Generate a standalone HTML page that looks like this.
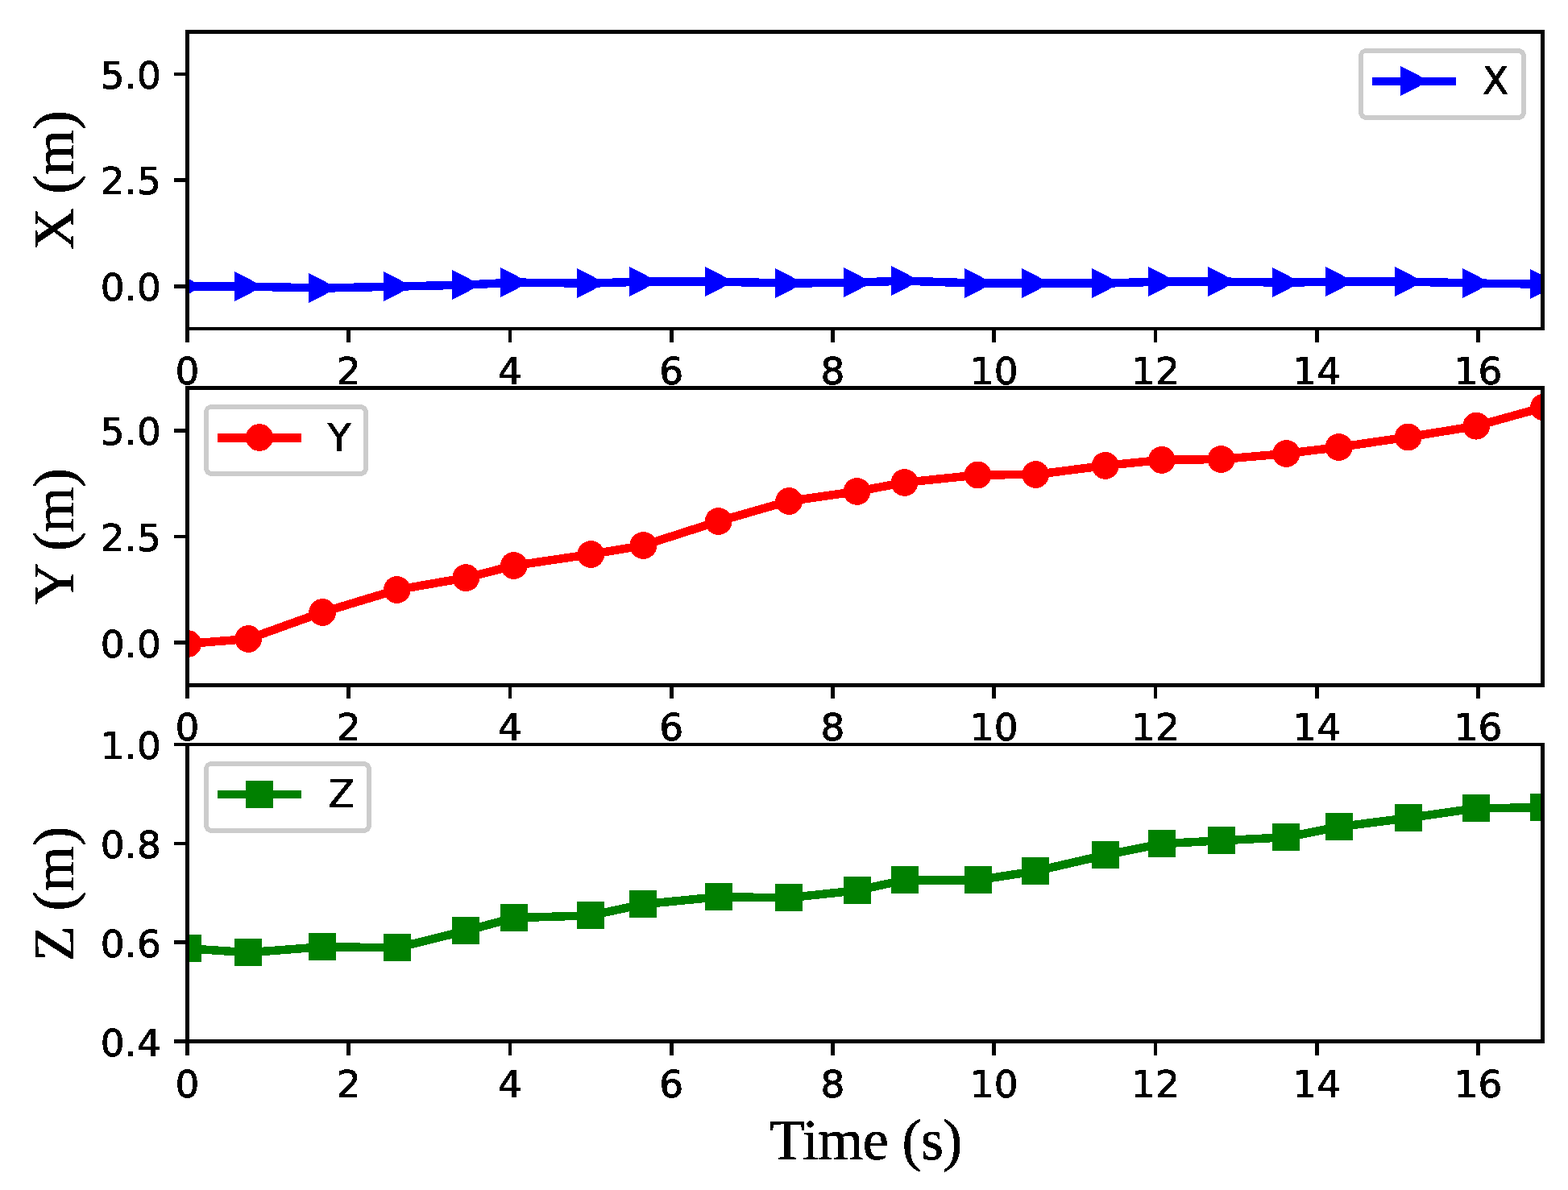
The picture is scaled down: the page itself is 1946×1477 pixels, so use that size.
<!DOCTYPE html>
<html lang="en"><head><meta charset="utf-8"><title>X, Y, Z position versus time</title>
<style>
html,body{margin:0;padding:0;background:#fff;}
body{width:1946px;height:1477px;overflow:hidden;}
svg{display:block;}
.t{font-family:"DejaVu Sans","Liberation Sans",sans-serif;font-size:47px;fill:#000;stroke:#000;stroke-width:0.7px;stroke-linejoin:round;filter:url(#bin);}
.l{font-family:"Liberation Serif","DejaVu Serif",serif;font-size:72px;fill:#000;stroke:#000;stroke-width:0.6px;stroke-linejoin:round;filter:url(#bin);}
.spf{fill:#000;fill-rule:evenodd;shape-rendering:crispEdges;}
.ln{fill:none;stroke-width:10.5;stroke-linejoin:round;stroke-linecap:butt;}
.lg{fill:#fff;stroke:#cccccc;stroke-width:5.7;}
</style></head><body>
<svg width="1946" height="1477" viewBox="0 0 1946 1477" role="img" aria-label="X, Y and Z position in metres versus time in seconds">
<rect width="1946" height="1477" fill="#fff"/>
<defs>
<filter id="bin" x="-10%" y="-10%" width="120%" height="120%" color-interpolation-filters="sRGB"><feComponentTransfer><feFuncA type="discrete" tableValues="0 0 1 1 1"/></feComponentTransfer></filter>
<clipPath id="c0"><rect x="232.5" y="39.5" width="1682" height="368.5"/></clipPath>
<clipPath id="c1"><rect x="232.5" y="481.75" width="1682" height="368.5"/></clipPath>
<clipPath id="c2"><rect x="232.5" y="924" width="1682" height="368.5"/></clipPath>
</defs>
<g id="axes1">
<path class="spf" d="M230 410H235V425H230ZM430 410H435V425H430ZM631 410H635V425H631ZM831 410H836V425H831ZM1031 410H1036V425H1031ZM1231 410H1236V425H1231ZM1432 410H1436V425H1432ZM1632 410H1637V425H1632ZM1832 410H1837V425H1832Z"/>
<text class="t" x="232.5" y="476.5" text-anchor="middle">0</text>
<text class="t" x="432.74" y="476.5" text-anchor="middle">2</text>
<text class="t" x="632.98" y="476.5" text-anchor="middle">4</text>
<text class="t" x="833.22" y="476.5" text-anchor="middle">6</text>
<text class="t" x="1033.46" y="476.5" text-anchor="middle">8</text>
<text class="t" x="1233.7" y="476.5" text-anchor="middle">10</text>
<text class="t" x="1433.94" y="476.5" text-anchor="middle">12</text>
<text class="t" x="1634.18" y="476.5" text-anchor="middle">14</text>
<text class="t" x="1834.42" y="476.5" text-anchor="middle">16</text>
<path class="spf" d="M216 90H230V94H216ZM216 221H230V226H216ZM216 353H230V358H216Z"/>
<text class="t" x="200" y="110.26" text-anchor="end" letter-spacing="0.15">5.0</text>
<text class="t" x="200" y="241.26" text-anchor="end" letter-spacing="0.15">2.5</text>
<text class="t" x="200" y="373.26" text-anchor="end" letter-spacing="0.15">0.0</text>
<text class="l" transform="translate(91 223.85) rotate(-90)" text-anchor="middle" letter-spacing="-0.25">X (m)</text>
<g clip-path="url(#c0)" shape-rendering="crispEdges">
<polyline class="ln" stroke="#0000ff" points="233,355.6 308.1,355.6 400.1,357.6 492.8,355.6 578.3,353.6 637.8,350.6 733.3,351.6 798.4,349.6 891.7,349.6 979.1,351.6 1063.6,350.6 1122.6,348.6 1213.6,351.6 1285.2,351.6 1371.7,351.6 1441.8,349.6 1515.6,349.6 1596.4,350.6 1661.6,349.6 1747.7,349.6 1832.2,351.6 1916,352.6"/>
<path fill="#0000ff" d="M216 337L252.2 355.5L216 374ZM291 337L327.2 355.5L291 374ZM383 339L419.2 357.5L383 376ZM476 337L512.2 355.5L476 374ZM561 335L597.2 353.5L561 372ZM621 332L657.2 350.5L621 369ZM716 333L752.2 351.5L716 370ZM781 331L817.2 349.5L781 368ZM875 331L911.2 349.5L875 368ZM962 333L998.2 351.5L962 370ZM1047 332L1083.2 350.5L1047 369ZM1106 330L1142.2 348.5L1106 367ZM1197 333L1233.2 351.5L1197 370ZM1268 333L1304.2 351.5L1268 370ZM1355 333L1391.2 351.5L1355 370ZM1425 331L1461.2 349.5L1425 368ZM1499 331L1535.2 349.5L1499 368ZM1579 332L1615.2 350.5L1579 369ZM1645 331L1681.2 349.5L1645 368ZM1731 331L1767.2 349.5L1731 368ZM1815 333L1851.2 351.5L1815 370ZM1899 334L1935.2 352.5L1899 371Z"/>
</g>
<path class="spf" d="M230 37H1917V410H230ZM235 42V406H1912V42Z"/>
</g>
<g id="axes2">
<path class="spf" d="M230 853H235V867H230ZM430 853H435V867H430ZM631 853H635V867H631ZM831 853H836V867H831ZM1031 853H1036V867H1031ZM1231 853H1236V867H1231ZM1432 853H1436V867H1432ZM1632 853H1637V867H1632ZM1832 853H1837V867H1832Z"/>
<text class="t" x="232.5" y="918.5" text-anchor="middle">0</text>
<text class="t" x="432.74" y="918.5" text-anchor="middle">2</text>
<text class="t" x="632.98" y="918.5" text-anchor="middle">4</text>
<text class="t" x="833.22" y="918.5" text-anchor="middle">6</text>
<text class="t" x="1033.46" y="918.5" text-anchor="middle">8</text>
<text class="t" x="1233.7" y="918.5" text-anchor="middle">10</text>
<text class="t" x="1433.94" y="918.5" text-anchor="middle">12</text>
<text class="t" x="1634.18" y="918.5" text-anchor="middle">14</text>
<text class="t" x="1834.42" y="918.5" text-anchor="middle">16</text>
<path class="spf" d="M216 532H230V537H216ZM216 664H230V668H216ZM216 795H230V800H216Z"/>
<text class="t" x="200" y="552.26" text-anchor="end" letter-spacing="0.15">5.0</text>
<text class="t" x="200" y="684.26" text-anchor="end" letter-spacing="0.15">2.5</text>
<text class="t" x="200" y="816.26" text-anchor="end" letter-spacing="0.15">0.0</text>
<text class="l" transform="translate(91 665.8) rotate(-90)" text-anchor="middle" letter-spacing="-0.6">Y (m)</text>
<g clip-path="url(#c1)" shape-rendering="crispEdges">
<polyline class="ln" stroke="#ff0000" points="233,799 308.1,793 400.1,760 492.8,732 578.3,717.1 637.8,702 733.3,688 798.4,677 891.7,647 979.1,622 1063.6,609.9 1122.6,598.9 1213.6,589.5 1285.2,589 1371.7,577.9 1441.8,570.9 1515.6,570 1596.4,563 1661.6,555 1747.7,542.5 1832.2,528.7 1916,505.5"/>
<path fill="#ff0000" d="M249.9 799L249.69 801.64L249.07 804.22L248.06 806.67L246.67 808.93L244.95 810.95L242.93 812.67L240.67 814.06L238.22 815.07L235.64 815.69L233 815.9L230.36 815.69L227.78 815.07L225.33 814.06L223.07 812.67L221.05 810.95L219.33 808.93L217.94 806.67L216.93 804.22L216.31 801.64L216.1 799L216.31 796.36L216.93 793.78L217.94 791.33L219.33 789.07L221.05 787.05L223.07 785.33L225.33 783.94L227.78 782.93L230.36 782.31L233 782.1L235.64 782.31L238.22 782.93L240.67 783.94L242.93 785.33L244.95 787.05L246.67 789.07L248.06 791.33L249.07 793.78L249.69 796.36ZM325 793L324.79 795.64L324.17 798.22L323.16 800.67L321.77 802.93L320.05 804.95L318.03 806.67L315.77 808.06L313.32 809.07L310.74 809.69L308.1 809.9L305.46 809.69L302.88 809.07L300.43 808.06L298.17 806.67L296.15 804.95L294.43 802.93L293.04 800.67L292.03 798.22L291.41 795.64L291.2 793L291.41 790.36L292.03 787.78L293.04 785.33L294.43 783.07L296.15 781.05L298.17 779.33L300.43 777.94L302.88 776.93L305.46 776.31L308.1 776.1L310.74 776.31L313.32 776.93L315.77 777.94L318.03 779.33L320.05 781.05L321.77 783.07L323.16 785.33L324.17 787.78L324.79 790.36ZM417 760L416.79 762.64L416.17 765.22L415.16 767.67L413.77 769.93L412.05 771.95L410.03 773.67L407.77 775.06L405.32 776.07L402.74 776.69L400.1 776.9L397.46 776.69L394.88 776.07L392.43 775.06L390.17 773.67L388.15 771.95L386.43 769.93L385.04 767.67L384.03 765.22L383.41 762.64L383.2 760L383.41 757.36L384.03 754.78L385.04 752.33L386.43 750.07L388.15 748.05L390.17 746.33L392.43 744.94L394.88 743.93L397.46 743.31L400.1 743.1L402.74 743.31L405.32 743.93L407.77 744.94L410.03 746.33L412.05 748.05L413.77 750.07L415.16 752.33L416.17 754.78L416.79 757.36ZM509.7 732L509.49 734.64L508.87 737.22L507.86 739.67L506.47 741.93L504.75 743.95L502.73 745.67L500.47 747.06L498.02 748.07L495.44 748.69L492.8 748.9L490.16 748.69L487.58 748.07L485.13 747.06L482.87 745.67L480.85 743.95L479.13 741.93L477.74 739.67L476.73 737.22L476.11 734.64L475.9 732L476.11 729.36L476.73 726.78L477.74 724.33L479.13 722.07L480.85 720.05L482.87 718.33L485.13 716.94L487.58 715.93L490.16 715.31L492.8 715.1L495.44 715.31L498.02 715.93L500.47 716.94L502.73 718.33L504.75 720.05L506.47 722.07L507.86 724.33L508.87 726.78L509.49 729.36ZM595.2 717.1L594.99 719.74L594.37 722.32L593.36 724.77L591.97 727.03L590.25 729.05L588.23 730.77L585.97 732.16L583.52 733.17L580.94 733.79L578.3 734L575.66 733.79L573.08 733.17L570.63 732.16L568.37 730.77L566.35 729.05L564.63 727.03L563.24 724.77L562.23 722.32L561.61 719.74L561.4 717.1L561.61 714.46L562.23 711.88L563.24 709.43L564.63 707.17L566.35 705.15L568.37 703.43L570.63 702.04L573.08 701.03L575.66 700.41L578.3 700.2L580.94 700.41L583.52 701.03L585.97 702.04L588.23 703.43L590.25 705.15L591.97 707.17L593.36 709.43L594.37 711.88L594.99 714.46ZM654.7 702L654.49 704.64L653.87 707.22L652.86 709.67L651.47 711.93L649.75 713.95L647.73 715.67L645.47 717.06L643.02 718.07L640.44 718.69L637.8 718.9L635.16 718.69L632.58 718.07L630.13 717.06L627.87 715.67L625.85 713.95L624.13 711.93L622.74 709.67L621.73 707.22L621.11 704.64L620.9 702L621.11 699.36L621.73 696.78L622.74 694.33L624.13 692.07L625.85 690.05L627.87 688.33L630.13 686.94L632.58 685.93L635.16 685.31L637.8 685.1L640.44 685.31L643.02 685.93L645.47 686.94L647.73 688.33L649.75 690.05L651.47 692.07L652.86 694.33L653.87 696.78L654.49 699.36ZM750.2 688L749.99 690.64L749.37 693.22L748.36 695.67L746.97 697.93L745.25 699.95L743.23 701.67L740.97 703.06L738.52 704.07L735.94 704.69L733.3 704.9L730.66 704.69L728.08 704.07L725.63 703.06L723.37 701.67L721.35 699.95L719.63 697.93L718.24 695.67L717.23 693.22L716.61 690.64L716.4 688L716.61 685.36L717.23 682.78L718.24 680.33L719.63 678.07L721.35 676.05L723.37 674.33L725.63 672.94L728.08 671.93L730.66 671.31L733.3 671.1L735.94 671.31L738.52 671.93L740.97 672.94L743.23 674.33L745.25 676.05L746.97 678.07L748.36 680.33L749.37 682.78L749.99 685.36ZM815.3 677L815.09 679.64L814.47 682.22L813.46 684.67L812.07 686.93L810.35 688.95L808.33 690.67L806.07 692.06L803.62 693.07L801.04 693.69L798.4 693.9L795.76 693.69L793.18 693.07L790.73 692.06L788.47 690.67L786.45 688.95L784.73 686.93L783.34 684.67L782.33 682.22L781.71 679.64L781.5 677L781.71 674.36L782.33 671.78L783.34 669.33L784.73 667.07L786.45 665.05L788.47 663.33L790.73 661.94L793.18 660.93L795.76 660.31L798.4 660.1L801.04 660.31L803.62 660.93L806.07 661.94L808.33 663.33L810.35 665.05L812.07 667.07L813.46 669.33L814.47 671.78L815.09 674.36ZM908.6 647L908.39 649.64L907.77 652.22L906.76 654.67L905.37 656.93L903.65 658.95L901.63 660.67L899.37 662.06L896.92 663.07L894.34 663.69L891.7 663.9L889.06 663.69L886.48 663.07L884.03 662.06L881.77 660.67L879.75 658.95L878.03 656.93L876.64 654.67L875.63 652.22L875.01 649.64L874.8 647L875.01 644.36L875.63 641.78L876.64 639.33L878.03 637.07L879.75 635.05L881.77 633.33L884.03 631.94L886.48 630.93L889.06 630.31L891.7 630.1L894.34 630.31L896.92 630.93L899.37 631.94L901.63 633.33L903.65 635.05L905.37 637.07L906.76 639.33L907.77 641.78L908.39 644.36ZM996 622L995.79 624.64L995.17 627.22L994.16 629.67L992.77 631.93L991.05 633.95L989.03 635.67L986.77 637.06L984.32 638.07L981.74 638.69L979.1 638.9L976.46 638.69L973.88 638.07L971.43 637.06L969.17 635.67L967.15 633.95L965.43 631.93L964.04 629.67L963.03 627.22L962.41 624.64L962.2 622L962.41 619.36L963.03 616.78L964.04 614.33L965.43 612.07L967.15 610.05L969.17 608.33L971.43 606.94L973.88 605.93L976.46 605.31L979.1 605.1L981.74 605.31L984.32 605.93L986.77 606.94L989.03 608.33L991.05 610.05L992.77 612.07L994.16 614.33L995.17 616.78L995.79 619.36ZM1080.5 609.9L1080.29 612.54L1079.67 615.12L1078.66 617.57L1077.27 619.83L1075.55 621.85L1073.53 623.57L1071.27 624.96L1068.82 625.97L1066.24 626.59L1063.6 626.8L1060.96 626.59L1058.38 625.97L1055.93 624.96L1053.67 623.57L1051.65 621.85L1049.93 619.83L1048.54 617.57L1047.53 615.12L1046.91 612.54L1046.7 609.9L1046.91 607.26L1047.53 604.68L1048.54 602.23L1049.93 599.97L1051.65 597.95L1053.67 596.23L1055.93 594.84L1058.38 593.83L1060.96 593.21L1063.6 593L1066.24 593.21L1068.82 593.83L1071.27 594.84L1073.53 596.23L1075.55 597.95L1077.27 599.97L1078.66 602.23L1079.67 604.68L1080.29 607.26ZM1139.5 598.9L1139.29 601.54L1138.67 604.12L1137.66 606.57L1136.27 608.83L1134.55 610.85L1132.53 612.57L1130.27 613.96L1127.82 614.97L1125.24 615.59L1122.6 615.8L1119.96 615.59L1117.38 614.97L1114.93 613.96L1112.67 612.57L1110.65 610.85L1108.93 608.83L1107.54 606.57L1106.53 604.12L1105.91 601.54L1105.7 598.9L1105.91 596.26L1106.53 593.68L1107.54 591.23L1108.93 588.97L1110.65 586.95L1112.67 585.23L1114.93 583.84L1117.38 582.83L1119.96 582.21L1122.6 582L1125.24 582.21L1127.82 582.83L1130.27 583.84L1132.53 585.23L1134.55 586.95L1136.27 588.97L1137.66 591.23L1138.67 593.68L1139.29 596.26ZM1230.5 589.5L1230.29 592.14L1229.67 594.72L1228.66 597.17L1227.27 599.43L1225.55 601.45L1223.53 603.17L1221.27 604.56L1218.82 605.57L1216.24 606.19L1213.6 606.4L1210.96 606.19L1208.38 605.57L1205.93 604.56L1203.67 603.17L1201.65 601.45L1199.93 599.43L1198.54 597.17L1197.53 594.72L1196.91 592.14L1196.7 589.5L1196.91 586.86L1197.53 584.28L1198.54 581.83L1199.93 579.57L1201.65 577.55L1203.67 575.83L1205.93 574.44L1208.38 573.43L1210.96 572.81L1213.6 572.6L1216.24 572.81L1218.82 573.43L1221.27 574.44L1223.53 575.83L1225.55 577.55L1227.27 579.57L1228.66 581.83L1229.67 584.28L1230.29 586.86ZM1302.1 589L1301.89 591.64L1301.27 594.22L1300.26 596.67L1298.87 598.93L1297.15 600.95L1295.13 602.67L1292.87 604.06L1290.42 605.07L1287.84 605.69L1285.2 605.9L1282.56 605.69L1279.98 605.07L1277.53 604.06L1275.27 602.67L1273.25 600.95L1271.53 598.93L1270.14 596.67L1269.13 594.22L1268.51 591.64L1268.3 589L1268.51 586.36L1269.13 583.78L1270.14 581.33L1271.53 579.07L1273.25 577.05L1275.27 575.33L1277.53 573.94L1279.98 572.93L1282.56 572.31L1285.2 572.1L1287.84 572.31L1290.42 572.93L1292.87 573.94L1295.13 575.33L1297.15 577.05L1298.87 579.07L1300.26 581.33L1301.27 583.78L1301.89 586.36ZM1388.6 577.9L1388.39 580.54L1387.77 583.12L1386.76 585.57L1385.37 587.83L1383.65 589.85L1381.63 591.57L1379.37 592.96L1376.92 593.97L1374.34 594.59L1371.7 594.8L1369.06 594.59L1366.48 593.97L1364.03 592.96L1361.77 591.57L1359.75 589.85L1358.03 587.83L1356.64 585.57L1355.63 583.12L1355.01 580.54L1354.8 577.9L1355.01 575.26L1355.63 572.68L1356.64 570.23L1358.03 567.97L1359.75 565.95L1361.77 564.23L1364.03 562.84L1366.48 561.83L1369.06 561.21L1371.7 561L1374.34 561.21L1376.92 561.83L1379.37 562.84L1381.63 564.23L1383.65 565.95L1385.37 567.97L1386.76 570.23L1387.77 572.68L1388.39 575.26ZM1458.7 570.9L1458.49 573.54L1457.87 576.12L1456.86 578.57L1455.47 580.83L1453.75 582.85L1451.73 584.57L1449.47 585.96L1447.02 586.97L1444.44 587.59L1441.8 587.8L1439.16 587.59L1436.58 586.97L1434.13 585.96L1431.87 584.57L1429.85 582.85L1428.13 580.83L1426.74 578.57L1425.73 576.12L1425.11 573.54L1424.9 570.9L1425.11 568.26L1425.73 565.68L1426.74 563.23L1428.13 560.97L1429.85 558.95L1431.87 557.23L1434.13 555.84L1436.58 554.83L1439.16 554.21L1441.8 554L1444.44 554.21L1447.02 554.83L1449.47 555.84L1451.73 557.23L1453.75 558.95L1455.47 560.97L1456.86 563.23L1457.87 565.68L1458.49 568.26ZM1532.5 570L1532.29 572.64L1531.67 575.22L1530.66 577.67L1529.27 579.93L1527.55 581.95L1525.53 583.67L1523.27 585.06L1520.82 586.07L1518.24 586.69L1515.6 586.9L1512.96 586.69L1510.38 586.07L1507.93 585.06L1505.67 583.67L1503.65 581.95L1501.93 579.93L1500.54 577.67L1499.53 575.22L1498.91 572.64L1498.7 570L1498.91 567.36L1499.53 564.78L1500.54 562.33L1501.93 560.07L1503.65 558.05L1505.67 556.33L1507.93 554.94L1510.38 553.93L1512.96 553.31L1515.6 553.1L1518.24 553.31L1520.82 553.93L1523.27 554.94L1525.53 556.33L1527.55 558.05L1529.27 560.07L1530.66 562.33L1531.67 564.78L1532.29 567.36ZM1613.3 563L1613.09 565.64L1612.47 568.22L1611.46 570.67L1610.07 572.93L1608.35 574.95L1606.33 576.67L1604.07 578.06L1601.62 579.07L1599.04 579.69L1596.4 579.9L1593.76 579.69L1591.18 579.07L1588.73 578.06L1586.47 576.67L1584.45 574.95L1582.73 572.93L1581.34 570.67L1580.33 568.22L1579.71 565.64L1579.5 563L1579.71 560.36L1580.33 557.78L1581.34 555.33L1582.73 553.07L1584.45 551.05L1586.47 549.33L1588.73 547.94L1591.18 546.93L1593.76 546.31L1596.4 546.1L1599.04 546.31L1601.62 546.93L1604.07 547.94L1606.33 549.33L1608.35 551.05L1610.07 553.07L1611.46 555.33L1612.47 557.78L1613.09 560.36ZM1678.5 555L1678.29 557.64L1677.67 560.22L1676.66 562.67L1675.27 564.93L1673.55 566.95L1671.53 568.67L1669.27 570.06L1666.82 571.07L1664.24 571.69L1661.6 571.9L1658.96 571.69L1656.38 571.07L1653.93 570.06L1651.67 568.67L1649.65 566.95L1647.93 564.93L1646.54 562.67L1645.53 560.22L1644.91 557.64L1644.7 555L1644.91 552.36L1645.53 549.78L1646.54 547.33L1647.93 545.07L1649.65 543.05L1651.67 541.33L1653.93 539.94L1656.38 538.93L1658.96 538.31L1661.6 538.1L1664.24 538.31L1666.82 538.93L1669.27 539.94L1671.53 541.33L1673.55 543.05L1675.27 545.07L1676.66 547.33L1677.67 549.78L1678.29 552.36ZM1764.6 542.5L1764.39 545.14L1763.77 547.72L1762.76 550.17L1761.37 552.43L1759.65 554.45L1757.63 556.17L1755.37 557.56L1752.92 558.57L1750.34 559.19L1747.7 559.4L1745.06 559.19L1742.48 558.57L1740.03 557.56L1737.77 556.17L1735.75 554.45L1734.03 552.43L1732.64 550.17L1731.63 547.72L1731.01 545.14L1730.8 542.5L1731.01 539.86L1731.63 537.28L1732.64 534.83L1734.03 532.57L1735.75 530.55L1737.77 528.83L1740.03 527.44L1742.48 526.43L1745.06 525.81L1747.7 525.6L1750.34 525.81L1752.92 526.43L1755.37 527.44L1757.63 528.83L1759.65 530.55L1761.37 532.57L1762.76 534.83L1763.77 537.28L1764.39 539.86ZM1849.1 528.7L1848.89 531.34L1848.27 533.92L1847.26 536.37L1845.87 538.63L1844.15 540.65L1842.13 542.37L1839.87 543.76L1837.42 544.77L1834.84 545.39L1832.2 545.6L1829.56 545.39L1826.98 544.77L1824.53 543.76L1822.27 542.37L1820.25 540.65L1818.53 538.63L1817.14 536.37L1816.13 533.92L1815.51 531.34L1815.3 528.7L1815.51 526.06L1816.13 523.48L1817.14 521.03L1818.53 518.77L1820.25 516.75L1822.27 515.03L1824.53 513.64L1826.98 512.63L1829.56 512.01L1832.2 511.8L1834.84 512.01L1837.42 512.63L1839.87 513.64L1842.13 515.03L1844.15 516.75L1845.87 518.77L1847.26 521.03L1848.27 523.48L1848.89 526.06ZM1932.9 505.5L1932.69 508.14L1932.07 510.72L1931.06 513.17L1929.67 515.43L1927.95 517.45L1925.93 519.17L1923.67 520.56L1921.22 521.57L1918.64 522.19L1916 522.4L1913.36 522.19L1910.78 521.57L1908.33 520.56L1906.07 519.17L1904.05 517.45L1902.33 515.43L1900.94 513.17L1899.93 510.72L1899.31 508.14L1899.1 505.5L1899.31 502.86L1899.93 500.28L1900.94 497.83L1902.33 495.57L1904.05 493.55L1906.07 491.83L1908.33 490.44L1910.78 489.43L1913.36 488.81L1916 488.6L1918.64 488.81L1921.22 489.43L1923.67 490.44L1925.93 491.83L1927.95 493.55L1929.67 495.57L1931.06 497.83L1932.07 500.28L1932.69 502.86Z"/>
</g>
<path class="spf" d="M230 479H1917V853H230ZM235 484V848H1912V484Z"/>
</g>
<g id="axes3">
<path class="spf" d="M230 1295H235V1310H230ZM430 1295H435V1310H430ZM631 1295H635V1310H631ZM831 1295H836V1310H831ZM1031 1295H1036V1310H1031ZM1231 1295H1236V1310H1231ZM1432 1295H1436V1310H1432ZM1632 1295H1637V1310H1632ZM1832 1295H1837V1310H1832Z"/>
<text class="t" x="232.5" y="1361.5" text-anchor="middle">0</text>
<text class="t" x="432.74" y="1361.5" text-anchor="middle">2</text>
<text class="t" x="632.98" y="1361.5" text-anchor="middle">4</text>
<text class="t" x="833.22" y="1361.5" text-anchor="middle">6</text>
<text class="t" x="1033.46" y="1361.5" text-anchor="middle">8</text>
<text class="t" x="1233.7" y="1361.5" text-anchor="middle">10</text>
<text class="t" x="1433.94" y="1361.5" text-anchor="middle">12</text>
<text class="t" x="1634.18" y="1361.5" text-anchor="middle">14</text>
<text class="t" x="1834.42" y="1361.5" text-anchor="middle">16</text>
<path class="spf" d="M216 922H230V926H216ZM216 1045H230V1049H216ZM216 1167H230V1172H216ZM216 1290H230V1295H216Z"/>
<text class="t" x="200" y="942.26" text-anchor="end" letter-spacing="0.15">1.0</text>
<text class="t" x="200" y="1065.26" text-anchor="end" letter-spacing="0.15">0.8</text>
<text class="t" x="200" y="1188.26" text-anchor="end" letter-spacing="0.15">0.6</text>
<text class="t" x="200" y="1311.26" text-anchor="end" letter-spacing="0.15">0.4</text>
<text class="l" transform="translate(91 1109.45) rotate(-90)" text-anchor="middle" letter-spacing="0.3">Z (m)</text>
<g clip-path="url(#c2)" shape-rendering="crispEdges">
<polyline class="ln" stroke="#008000" points="233,1177.25 308.1,1182.25 400.1,1175.25 492.8,1176.25 578.3,1155.25 637.8,1139.25 733.3,1136.25 798.4,1122.25 891.7,1113.25 979.1,1114.25 1063.6,1105.25 1122.6,1092.25 1213.6,1092.25 1285.2,1081.25 1371.7,1061.25 1441.8,1047.25 1515.6,1043.25 1596.4,1039.25 1661.6,1026.25 1747.7,1015.25 1832.2,1003.25 1916,1002.25"/>
<path fill="#008000" d="M216 1160h34v34h-34zM291 1165h34v34h-34zM383 1158h34v34h-34zM476 1159h34v34h-34zM561 1138h34v34h-34zM621 1122h34v34h-34zM716 1119h34v34h-34zM781 1105h34v34h-34zM875 1096h34v34h-34zM962 1097h34v34h-34zM1047 1088h34v34h-34zM1106 1075h34v34h-34zM1197 1075h34v34h-34zM1268 1064h34v34h-34zM1355 1044h34v34h-34zM1425 1030h34v34h-34zM1499 1026h34v34h-34zM1579 1022h34v34h-34zM1645 1009h34v34h-34zM1731 998h34v34h-34zM1815 986h34v34h-34zM1899 985h34v34h-34z"/>
</g>
<path class="spf" d="M230 922H1917V1295H230ZM235 926V1290H1912V926Z"/>
</g>
<g id="legend1" shape-rendering="crispEdges">
<rect class="lg" x="1688.85" y="62.85" width="202.3" height="83.3" rx="7" ry="7"/>
<path fill="none" stroke="#0000ff" stroke-width="10" d="M1703 101H1807.1"/>
<path fill="#0000ff" d="M1738.05 82L1774.25 100.5L1738.05 119Z"/>
<text class="t" x="1839.7" y="116.9" style="font-size:47.6px">X</text>
</g>
<g id="legend2" shape-rendering="crispEdges">
<rect class="lg" x="255.85" y="504.85" width="198.3" height="83.3" rx="7" ry="7"/>
<path fill="none" stroke="#ff0000" stroke-width="10.8" d="M270 543.5H374"/>
<path fill="#ff0000" d="M338.9 543L338.69 545.64L338.07 548.22L337.06 550.67L335.67 552.93L333.95 554.95L331.93 556.67L329.67 558.06L327.22 559.07L324.64 559.69L322 559.9L319.36 559.69L316.78 559.07L314.33 558.06L312.07 556.67L310.05 554.95L308.33 552.93L306.94 550.67L305.93 548.22L305.31 545.64L305.1 543L305.31 540.36L305.93 537.78L306.94 535.33L308.33 533.07L310.05 531.05L312.07 529.33L314.33 527.94L316.78 526.93L319.36 526.31L322 526.1L324.64 526.31L327.22 526.93L329.67 527.94L331.93 529.33L333.95 531.05L335.67 533.07L337.06 535.33L338.07 537.78L338.69 540.36Z"/>
<text class="t" x="406.4" y="559.5" style="font-size:47.6px">Y</text>
</g>
<g id="legend3" shape-rendering="crispEdges">
<rect class="lg" x="255.85" y="947.85" width="202.3" height="83.3" rx="7" ry="7"/>
<path fill="none" stroke="#008000" stroke-width="10" d="M270 986H374"/>
<path fill="#008000" d="M305 969h34v34h-34z"/>
<text class="t" x="407.4" y="1002.3" style="font-size:47.6px">Z</text>
</g>
<text class="l" x="1074.4" y="1439.4" text-anchor="middle" letter-spacing="-0.6">Time (s)</text>
</svg>
</body></html>
